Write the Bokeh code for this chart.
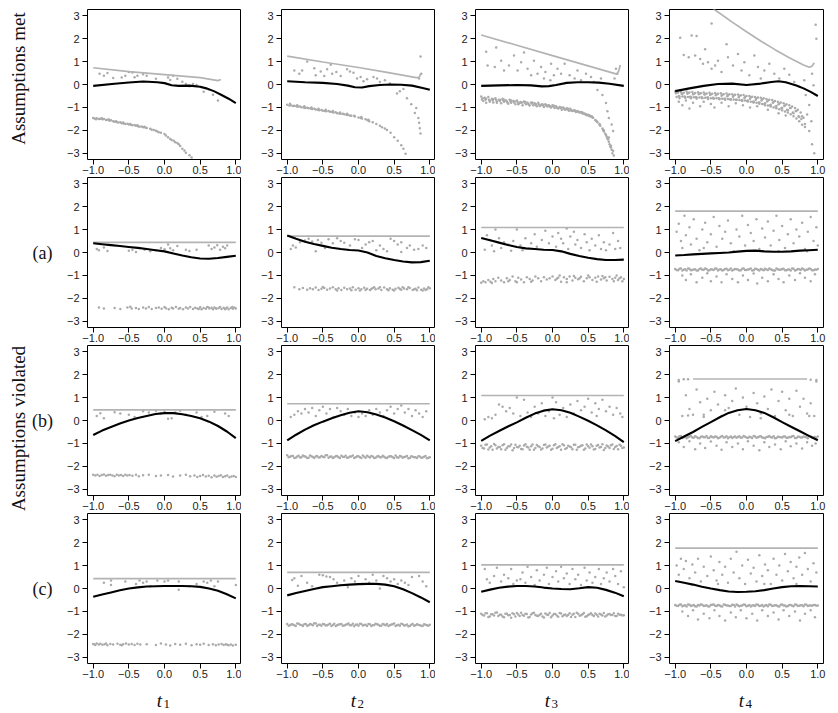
import math
from bokeh.plotting import figure
from bokeh.layouts import column, row
from bokeh.models import Range1d, FixedTicker
from bokeh.core.properties import value
from bokeh.embed import file_html
from bokeh.resources import INLINE

# ---------------- axes / labels ----------------
x_ticks = [-1.0, -0.5, 0.0, 0.5, 1.0]
x_tick_labels = ["\u22121.0", "\u22120.5", "0.0", "0.5", "1.0"]
y_ticks = [-3, -2, -1, 0, 1, 2, 3]
y_tick_labels = ["\u22123", "\u22122", "\u22121", "0", "1", "2", "3"]
x_limits = [-1.08, 1.08]
y_limits = [-3.27, 3.27]
row_tags = ["", "(a)", "(b)", "(c)"]
group_titles = ["Assumptions met", "Assumptions violated"]
col_var = "t"
col_subscripts = ["1", "2", "3", "4"]

fit_x = [-1.0, -0.875, -0.75, -0.625, -0.5, -0.375, -0.25, -0.125, 0.0, 0.125, 0.25, 0.375, 0.5, 0.625, 0.75, 0.875, 1.0]
band_x = [-1.0, -0.96, -0.92, -0.88, -0.84, -0.8, -0.76, -0.72, -0.68, -0.64, -0.6, -0.56, -0.52, -0.48, -0.44, -0.4,
          -0.36, -0.32, -0.28, -0.24, -0.2, -0.16, -0.12, -0.08, -0.04, 0.0, 0.04, 0.08, 0.12, 0.16, 0.2, 0.24, 0.28,
          0.32, 0.36, 0.4, 0.44, 0.48, 0.52, 0.56, 0.6, 0.64, 0.68, 0.72, 0.76, 0.8, 0.84, 0.88, 0.92, 0.96, 1.0]
band_x2 = [-0.98, -0.94, -0.9, -0.86, -0.82, -0.78, -0.74, -0.7, -0.66, -0.62, -0.58, -0.54, -0.5, -0.46, -0.42, -0.38,
           -0.34, -0.3, -0.26, -0.22, -0.18, -0.14, -0.1, -0.06, -0.02, 0.02, 0.06, 0.1, 0.14, 0.18, 0.22, 0.26, 0.3,
           0.34, 0.38, 0.42, 0.46, 0.5, 0.54, 0.58, 0.62, 0.66, 0.7, 0.74, 0.78, 0.82, 0.86, 0.9, 0.94, 0.98]

# ---------------- row 1 : assumptions met ----------------
m1_bound_x = [-1.0, -0.5, 0.0, 0.5, 0.75, 0.79]
m1_bound_y = [0.73, 0.56, 0.43, 0.3, 0.17, 0.22]
m1_fit_x = [-1.0, -0.7, -0.5, -0.3, -0.1, 0.0, 0.1, 0.2, 0.35, 0.5, 0.6, 0.7, 0.8, 0.9, 1.0]
m1_fit_y = [-0.06, 0.03, 0.09, 0.13, 0.1, 0.06, -0.03, -0.06, -0.05, -0.1, -0.18, -0.3, -0.46, -0.62, -0.81]
m1_scatter = [(-0.91, 0.47), (-0.85, 0.38), (-0.8, 0.5), (-0.72, 0.28), (-0.6, 0.3), (-0.55, 0.38), (-0.5, 0.55),
              (-0.45, 0.52), (-0.42, 0.32), (-0.38, 0.38), (-0.3, 0.45), (-0.25, 0.38), (-0.12, 0.25), (0.05, 0.3),
              (0.08, 0.2), (0.12, 0.38), (0.18, 0.25), (0.25, 0.12), (0.3, 0.02), (0.35, -0.08), (0.4, 0.02),
              (0.45, -0.02), (0.52, -0.12), (0.55, -0.32), (0.62, -0.22), (0.68, -0.45), (0.75, -0.7)]
m1_band = [(-1.0, -1.46), (-0.98, -1.48), (-0.95, -1.47), (-0.92, -1.5), (-0.9, -1.49), (-0.87, -1.52), (-0.85, -1.5),
           (-0.82, -1.55), (-0.8, -1.54), (-0.77, -1.58), (-0.75, -1.56), (-0.72, -1.6), (-0.7, -1.62), (-0.67, -1.64),
           (-0.65, -1.66), (-0.62, -1.65), (-0.6, -1.69), (-0.57, -1.7), (-0.55, -1.72), (-0.52, -1.71), (-0.5, -1.74),
           (-0.47, -1.76), (-0.45, -1.78), (-0.42, -1.77), (-0.4, -1.8), (-0.37, -1.82), (-0.35, -1.84), (-0.32, -1.83),
           (-0.3, -1.86), (-0.27, -1.88), (-0.25, -1.9), (-0.2, -1.93), (-0.15, -1.98), (-0.12, -2.02), (-0.1, -2.05),
           (-0.05, -2.1), (0.0, -2.16), (0.05, -2.3), (0.08, -2.38), (0.1, -2.42), (0.13, -2.45), (0.15, -2.52),
           (0.2, -2.6), (0.22, -2.68), (0.25, -2.8), (0.28, -2.88), (0.3, -2.98), (0.35, -3.08), (0.38, -3.18),
           (-0.96, -1.52), (-0.88, -1.47), (-0.78, -1.53), (-0.68, -1.6), (-0.58, -1.66), (-0.48, -1.72),
           (-0.38, -1.78), (-0.28, -1.84), (-0.18, -1.97), (-0.08, -2.08), (0.02, -2.22), (0.18, -2.55)]

m2_bound_x = [-1.0, -0.5, 0.0, 0.4, 0.81, 0.84, 0.86, 0.87]
m2_bound_y = [1.24, 0.98, 0.74, 0.53, 0.3, 0.3, 0.36, 0.47]
m2_fit_x = [-1.0, -0.75, -0.5, -0.3, -0.15, -0.05, 0.05, 0.15, 0.3, 0.45, 0.6, 0.75, 0.9, 1.0]
m2_fit_y = [0.14, 0.1, 0.07, 0.02, -0.05, -0.12, -0.13, -0.07, -0.02, 0.0, -0.01, -0.05, -0.15, -0.23]
m2_scatter = [(-0.9, 0.61), (-0.83, 0.47), (-0.79, 0.61), (-0.72, 1.0), (-0.62, 0.71), (-0.6, 0.4), (-0.53, 0.57),
              (-0.48, 0.37), (-0.44, 0.66), (-0.39, 0.86), (-0.37, 0.47), (-0.31, 0.54), (-0.25, 0.37), (-0.16, 0.66),
              (-0.12, 0.57), (-0.07, 0.51), (-0.02, 0.26), (0.03, 0.33), (0.07, 0.14), (0.12, 0.23), (0.21, 0.33),
              (0.26, 0.26), (0.3, 0.11), (0.37, 0.19), (0.44, 0.04), (0.54, -0.39), (0.58, -0.29), (0.63, -0.2),
              (0.68, -0.6), (0.74, -0.86), (0.79, -1.24), (0.81, -1.03), (0.84, -1.46), (0.85, -1.67), (0.86, -1.91),
              (0.87, -2.14), (0.85, 0.26), (0.88, 0.47), (0.87, 1.22)]
m2_band = [(-1.0, -0.88), (-0.97, -0.92), (-0.95, -0.9), (-0.92, -0.94), (-0.9, -0.93), (-0.87, -0.95), (-0.85, -0.97),
           (-0.82, -0.96), (-0.8, -0.99), (-0.77, -1.0), (-0.75, -1.02), (-0.72, -1.01), (-0.7, -1.04), (-0.67, -1.05),
           (-0.65, -1.07), (-0.62, -1.06), (-0.6, -1.09), (-0.57, -1.1), (-0.55, -1.12), (-0.52, -1.11), (-0.5, -1.14),
           (-0.47, -1.15), (-0.45, -1.17), (-0.42, -1.16), (-0.4, -1.19), (-0.37, -1.2), (-0.35, -1.22), (-0.32, -1.21),
           (-0.3, -1.25), (-0.27, -1.26), (-0.25, -1.28), (-0.22, -1.27), (-0.2, -1.3), (-0.17, -1.32), (-0.15, -1.33),
           (-0.12, -1.35), (-0.1, -1.36), (-0.05, -1.4), (0.0, -1.44), (0.03, -1.46), (0.05, -1.48), (0.1, -1.52),
           (0.13, -1.56), (0.15, -1.6), (0.2, -1.65), (0.25, -1.72), (0.3, -1.8), (0.33, -1.86), (0.37, -1.92),
           (0.4, -1.98), (0.45, -2.1), (0.5, -2.3), (0.55, -2.45), (0.6, -2.65), (0.63, -2.8), (0.66, -3.02),
           (-0.96, -0.84), (-0.86, -0.9), (-0.76, -0.95), (-0.66, -1.0), (-0.56, -1.06), (-0.46, -1.1),
           (-0.36, -1.16), (-0.26, -1.22), (-0.16, -1.28), (-0.06, -1.36), (0.04, -1.42), (0.14, -1.54)]

m3_bound_x = [-1.0, -0.5, 0.0, 0.5, 0.9, 0.93, 0.95]
m3_bound_y = [2.16, 1.71, 1.26, 0.81, 0.45, 0.6, 0.85]
m3_fit_x = [-1.0, -0.75, -0.5, -0.3, -0.15, -0.05, 0.05, 0.2, 0.35, 0.5, 0.65, 0.8, 1.0]
m3_fit_y = [-0.06, -0.04, -0.02, -0.04, -0.08, -0.07, -0.02, 0.07, 0.1, 0.1, 0.08, 0.03, -0.06]
m3_scatter = [(-0.93, 1.43), (-0.91, 0.83), (-0.81, 0.76), (-0.79, 1.61), (-0.72, 1.04), (-0.68, 0.61), (-0.61, 0.83),
              (-0.54, 1.26), (-0.49, 0.61), (-0.44, 0.97), (-0.4, 1.4), (-0.35, 0.69), (-0.3, 0.4), (-0.26, 1.04),
              (-0.21, 0.47), (-0.16, 0.76), (-0.12, 0.26), (-0.1, 0.54), (-0.03, 0.19), (0.02, 0.4), (-0.02, 0.9),
              (0.07, 0.69), (0.12, 0.47), (0.17, 0.9), (0.24, 0.4), (0.31, 0.26), (0.35, 0.61), (0.4, 0.19),
              (0.47, 0.47), (0.54, 0.33), (0.58, 0.11), (0.63, -0.24), (0.68, 0.26), (0.7, -0.46), (0.75, -0.81),
              (0.77, -1.17), (0.79, -1.46), (0.83, -1.74), (0.85, -2.03), (0.79, -2.31), (0.82, -2.67), (0.85, -2.89),
              (0.89, 0.69), (0.87, 0.26), (0.91, 0.47)]
m3_band = [(-1.0, -0.52), (-0.97, -0.72), (-0.95, -0.58), (-0.93, -0.8), (-0.9, -0.55), (-0.88, -0.7), (-0.85, -0.62),
           (-0.83, -0.78), (-0.8, -0.6), (-0.78, -0.74), (-0.75, -0.66), (-0.72, -0.82), (-0.7, -0.62), (-0.68, -0.75),
           (-0.65, -0.7), (-0.62, -0.84), (-0.6, -0.66), (-0.58, -0.8), (-0.55, -0.72), (-0.52, -0.86), (-0.5, -0.7),
           (-0.47, -0.82), (-0.45, -0.76), (-0.42, -0.9), (-0.4, -0.74), (-0.37, -0.86), (-0.35, -0.8), (-0.32, -0.92),
           (-0.3, -0.78), (-0.27, -0.9), (-0.25, -0.82), (-0.22, -0.95), (-0.2, -0.8), (-0.17, -0.92), (-0.15, -0.86),
           (-0.12, -0.98), (-0.1, -0.86), (-0.07, -0.96), (-0.05, -0.9), (-0.02, -1.0), (0.0, -0.9), (0.03, -1.02),
           (0.05, -0.95), (0.08, -1.05), (0.1, -0.98), (0.13, -1.1), (0.15, -1.0), (0.18, -1.1), (0.2, -1.04),
           (0.23, -1.14), (0.25, -1.06), (0.28, -1.16), (0.3, -1.12), (0.33, -1.2), (0.35, -1.15), (0.38, -1.22),
           (0.4, -1.2), (0.43, -1.28), (0.45, -1.26), (0.48, -1.34), (0.5, -1.32), (0.53, -1.4), (0.55, -1.38),
           (0.6, -1.55), (0.63, -1.65), (0.66, -1.75), (0.7, -1.92), (0.72, -2.05), (0.75, -2.2), (0.78, -2.4),
           (0.8, -2.6), (0.83, -2.85)]
m3_band_mid = [(-0.99, -0.65), (-0.94, -0.67), (-0.89, -0.66), (-0.84, -0.7), (-0.79, -0.68), (-0.74, -0.72),
               (-0.69, -0.7), (-0.64, -0.75), (-0.59, -0.73), (-0.54, -0.78), (-0.49, -0.76), (-0.44, -0.8),
               (-0.39, -0.8), (-0.34, -0.84), (-0.29, -0.83), (-0.24, -0.88), (-0.19, -0.87), (-0.14, -0.9),
               (-0.09, -0.92), (-0.04, -0.94), (0.01, -0.96), (0.06, -1.0), (0.11, -1.03), (0.16, -1.05),
               (0.21, -1.09), (0.26, -1.12), (0.31, -1.16), (0.36, -1.19), (0.41, -1.24), (0.46, -1.3),
               (0.51, -1.36), (0.56, -1.44), (0.61, -1.58), (0.66, -1.72), (0.71, -1.98), (0.76, -2.28),
               (0.81, -2.7), (0.84, -3.0)]
m3_band_extra = [(-0.98, -0.6), (-0.93, -0.62), (-0.88, -0.75), (-0.83, -0.64), (-0.78, -0.8), (-0.73, -0.68),
                 (-0.68, -0.66), (-0.63, -0.8), (-0.58, -0.7), (-0.53, -0.74), (-0.48, -0.86), (-0.43, -0.78),
                 (-0.38, -0.76), (-0.33, -0.88), (-0.28, -0.8), (-0.23, -0.86), (-0.18, -0.94), (-0.13, -0.88),
                 (-0.08, -0.9), (-0.03, -0.98), (0.02, -0.93), (0.07, -1.02), (0.12, -1.0), (0.17, -1.08),
                 (0.22, -1.06), (0.27, -1.14), (0.32, -1.14), (0.37, -1.2), (0.42, -1.22), (0.47, -1.3),
                 (0.52, -1.35), (0.57, -1.45), (0.62, -1.6), (0.67, -1.8), (0.72, -2.0), (0.74, -2.15),
                 (0.77, -2.35), (0.79, -2.5), (0.82, -2.75), (0.86, -3.1)]

m4_bound_x = [-0.5, -0.45, -0.2, 0.0, 0.2, 0.4, 0.6, 0.8, 0.88, 0.92, 0.95]
m4_bound_y = [3.4, 3.27, 2.72, 2.3, 1.9, 1.52, 1.17, 0.85, 0.75, 0.8, 0.95]
m4_fit_x = [-1.0, -0.8, -0.6, -0.4, -0.2, 0.0, 0.2, 0.35, 0.45, 0.55, 0.7, 0.8, 0.9, 1.0]
m4_fit_y = [-0.29, -0.17, -0.06, 0.02, 0.04, -0.02, 0.04, 0.11, 0.14, 0.1, -0.04, -0.17, -0.32, -0.5]
m4_scatter = [(-0.93, 2.04), (-0.77, 2.14), (-0.7, 2.11), (-0.49, 2.66), (-0.28, 1.76), (-0.88, 1.29), (-0.81, 1.19),
              (-0.72, 1.26), (-0.65, 1.11), (-0.58, 1.54), (-0.61, 0.9), (-0.54, 0.97), (-0.49, 0.69), (-0.44, 0.83),
              (-0.4, 1.04), (-0.35, 0.54), (-0.26, 1.19), (-0.19, 0.83), (-0.12, 1.33), (-0.07, 0.61), (-0.03, 0.97),
              (0.04, 0.4), (0.11, 1.26), (0.16, 0.76), (0.2, 0.26), (0.25, 0.61), (0.32, 0.9), (0.39, 0.47),
              (0.46, 0.26), (0.53, 0.69), (0.6, 0.43), (0.67, 0.11), (0.74, -0.1), (0.81, 0.19), (0.83, -0.46),
              (0.88, -0.89), (0.85, -1.31), (0.91, -1.6), (0.88, -2.03), (0.92, -2.6), (0.95, -3.0), (0.97, 2.61),
              (0.98, 2.0), (0.92, 0.47), (0.94, -0.03)]
m4_band_y = [-0.3, -0.35, -0.32, -0.36, -0.31, -0.35, -0.33, -0.37, -0.34, -0.38, -0.35, -0.39, -0.36, -0.4, -0.37,
             -0.4, -0.38, -0.42, -0.39, -0.43, -0.42, -0.45, -0.44, -0.47, -0.46, -0.5, -0.5, -0.53, -0.54, -0.57,
             -0.58, -0.6, -0.63, -0.66, -0.68, -0.72, -0.75, -0.79, -0.82, -0.86, -0.9, -0.96, -1.02, -1.1, -1.22,
             -1.45]
m4_band_y2 = [-0.55, -0.6, -0.52, -0.58, -0.54, -0.6, -0.56, -0.62, -0.57, -0.6, -0.58, -0.63, -0.6, -0.62, -0.6,
              -0.64, -0.62, -0.66, -0.63, -0.67, -0.65, -0.68, -0.68, -0.72, -0.7, -0.74, -0.75, -0.78, -0.8, -0.84,
              -0.85, -0.9, -0.92, -0.96, -1.0, -1.04, -1.08, -1.12, -1.18, -1.22, -1.3, -1.38, -1.48, -1.6, -1.75,
              -1.85]
m4_band_mid = [-0.35, -0.52, -0.4, -0.55, -0.37, -0.54, -0.41, -0.57, -0.39, -0.58, -0.42, -0.57, -0.43, -0.6, -0.44,
               -0.61, -0.45, -0.62, -0.47, -0.64, -0.49, -0.66, -0.5, -0.68, -0.54, -0.7, -0.56, -0.74, -0.6, -0.78,
               -0.64, -0.82, -0.7, -0.88, -0.76, -0.94, -0.83, -1.02, -0.92, -1.12, -1.02, -1.25, -1.16, -1.42, -1.38,
               -1.72]
m4_band_extra = [(-0.99, -0.38), (-0.95, -0.5), (-0.91, -0.4), (-0.87, -0.52), (-0.83, -0.4), (-0.79, -0.53),
                 (-0.75, -0.42), (-0.71, -0.55), (-0.67, -0.43), (-0.63, -0.56), (-0.59, -0.44), (-0.55, -0.57),
                 (-0.51, -0.46), (-0.47, -0.58), (-0.43, -0.47), (-0.39, -0.6), (-0.35, -0.49), (-0.31, -0.62),
                 (-0.27, -0.51), (-0.23, -0.64), (-0.19, -0.53), (-0.15, -0.66), (-0.11, -0.56), (-0.07, -0.69),
                 (-0.03, -0.59), (0.01, -0.72), (0.05, -0.62), (0.09, -0.76), (0.13, -0.66), (0.17, -0.8),
                 (0.21, -0.7), (0.25, -0.85), (0.29, -0.74), (0.33, -0.9), (0.37, -0.8), (0.41, -0.96),
                 (0.45, -0.86), (0.49, -1.02), (0.53, -0.94), (0.57, -1.1), (0.61, -1.03), (0.65, -1.22),
                 (0.69, -1.16), (0.73, -1.38), (0.77, -1.5)]
m4_below = [(-0.95, -0.75), (-0.9, -0.9), (-0.85, -0.7), (-0.8, -1.05), (-0.75, -0.8), (-0.65, -0.95), (-0.6, -0.75),
            (-0.5, -0.85), (-0.45, -1.0), (-0.35, -0.8), (-0.25, -0.95), (-0.15, -0.82), (-0.05, -0.9), (0.05, -1.0),
            (0.15, -0.95), (0.3, -1.1), (0.45, -1.25), (0.55, -1.35)]

# ---------------- row 2 : (a) ----------------
a1_level = 0.44
a2_level = 0.71
a3_level = 1.09
a4_level = 1.8
a1_fit_y = [0.4, 0.36, 0.32, 0.28, 0.24, 0.2, 0.15, 0.1, 0.05, -0.04, -0.13, -0.21, -0.26, -0.27, -0.24, -0.19, -0.14]
a2_fit_y = [0.74, 0.6, 0.47, 0.37, 0.29, 0.21, 0.15, 0.11, 0.09, 0.0, -0.15, -0.25, -0.33, -0.39, -0.43, -0.42, -0.36]
a3_fit_y = [0.63, 0.53, 0.43, 0.33, 0.24, 0.18, 0.15, 0.12, 0.11, 0.05, -0.06, -0.15, -0.23, -0.29, -0.33, -0.33, -0.31]
a4_fit_y = [-0.13, -0.11, -0.08, -0.06, -0.04, -0.02, 0.0, 0.04, 0.07, 0.08, 0.05, 0.03, 0.03, 0.05, 0.08, 0.1, 0.12]

a1_scatter = [(-0.95, 0.15), (-0.92, 0.1), (-0.85, 0.22), (-0.8, 0.06), (-0.5, 0.08), (-0.45, 0.12), (-0.4, 0.02),
              (-0.35, 0.2), (-0.28, 0.12), (-0.2, 0.05), (-0.12, 0.1), (-0.05, 0.2), (0.0, 0.14), (0.05, 0.35),
              (0.08, 0.18), (0.12, 0.1), (0.18, 0.28), (0.3, 0.12), (0.35, 0.06), (0.45, 0.12), (0.62, 0.3),
              (0.66, 0.15), (0.7, 0.22), (0.74, 0.32), (0.78, 0.12), (0.82, 0.25), (0.85, 0.18), (0.88, 0.3)]
a1_band = [(-0.92, -2.4), (-0.85, -2.44), (-0.7, -2.42), (-0.62, -2.46), (-0.52, -2.4), (-0.48, -2.36), (-0.46, -2.44),
           (-0.4, -2.42), (-0.36, -2.46), (-0.3, -2.4), (-0.26, -2.44), (-0.22, -2.38), (-0.18, -2.46), (-0.12, -2.42),
           (-0.08, -2.4), (-0.04, -2.45), (0.0, -2.38), (0.02, -2.43), (0.06, -2.47), (0.1, -2.41), (0.12, -2.44),
           (0.16, -2.38), (0.2, -2.45), (0.22, -2.42), (0.26, -2.47), (0.3, -2.4), (0.33, -2.44), (0.36, -2.38),
           (0.4, -2.46), (0.43, -2.41), (0.46, -2.44), (0.5, -2.39), (0.52, -2.47), (0.55, -2.42), (0.58, -2.45),
           (0.6, -2.38), (0.63, -2.44), (0.66, -2.41), (0.68, -2.47), (0.7, -2.4), (0.73, -2.45), (0.76, -2.42),
           (0.78, -2.38), (0.8, -2.46), (0.83, -2.41), (0.86, -2.44), (0.88, -2.4), (0.9, -2.47), (0.93, -2.42),
           (0.96, -2.45), (0.98, -2.4), (1.0, -2.44), (0.48, -2.46), (0.62, -2.4), (0.72, -2.43), (0.85, -2.47),
           (0.95, -2.38)]

a2_scatter = [(-0.95, 0.15), (-0.92, 0.3), (-0.88, 0.22), (-0.82, 0.45), (-0.75, 0.52), (-0.7, 0.6), (-0.65, 0.48),
              (-0.6, 0.05), (-0.57, 0.55), (-0.52, 0.42), (-0.47, 0.2), (-0.42, 0.58), (-0.36, 0.4), (-0.3, 0.62),
              (-0.25, 0.5), (-0.2, 0.42), (-0.12, 0.3), (-0.05, 0.58), (0.0, 0.55), (0.05, 0.2), (0.1, 0.35),
              (0.15, 0.45), (0.2, 0.5), (0.25, 0.1), (0.3, 0.3), (0.35, 0.15), (0.4, 0.05), (0.45, 0.6), (0.5, 0.5),
              (0.55, 0.35), (0.6, 0.45), (0.6, 0.02), (0.68, 0.2), (0.72, 0.3), (0.78, 0.12), (0.84, 0.15),
              (0.9, 0.3), (0.95, 0.2)]
a2_band = [(-0.9, -1.52), (-0.83, -1.6), (-0.78, -1.55), (-0.72, -1.62), (-0.68, -1.56), (-0.64, -1.6), (-0.6, -1.53),
           (-0.56, -1.64), (-0.52, -1.58), (-0.48, -1.55), (-0.44, -1.62), (-0.4, -1.57), (-0.36, -1.52),
           (-0.32, -1.6), (-0.28, -1.56), (-0.24, -1.63), (-0.2, -1.54), (-0.16, -1.6), (-0.12, -1.57), (-0.08, -1.52),
           (-0.04, -1.62), (0.0, -1.56), (0.04, -1.6), (0.08, -1.54), (0.12, -1.58), (0.16, -1.63), (0.2, -1.55),
           (0.24, -1.6), (0.28, -1.57), (0.32, -1.64), (0.36, -1.53), (0.4, -1.6), (0.44, -1.56), (0.48, -1.62),
           (0.52, -1.58), (0.56, -1.54), (0.6, -1.62), (0.64, -1.57), (0.68, -1.6), (0.72, -1.55), (0.76, -1.64),
           (0.8, -1.58), (0.84, -1.53), (0.88, -1.62), (0.92, -1.57), (0.96, -1.6), (1.0, -1.56), (0.1, -1.64),
           (0.3, -1.52), (0.5, -1.66), (0.7, -1.51), (0.9, -1.66), (-0.3, -1.66), (-0.5, -1.5), (0.02, -1.66),
           (0.22, -1.51), (0.42, -1.65), (0.62, -1.52), (0.82, -1.65), (0.98, -1.52), (-0.1, -1.65), (0.18, -1.59),
           (0.58, -1.59), (0.78, -1.6), (0.94, -1.64)]

a3_scatter = [(-0.95, 0.12), (-0.92, 0.75), (-0.88, 0.55), (-0.85, 0.3), (-0.82, 0.05), (-0.8, 1.0), (-0.75, 0.62),
              (-0.72, 0.2), (-0.68, 0.45), (-0.62, 0.35), (-0.58, 0.08), (-0.55, 0.5), (-0.5, 1.0), (-0.45, 0.3),
              (-0.42, 0.1), (-0.38, 0.62), (-0.3, 0.4), (-0.25, 0.8), (-0.22, 0.25), (-0.15, 0.55), (-0.1, 0.95),
              (-0.05, 0.4), (0.0, 0.7), (0.05, 0.25), (0.08, 0.85), (0.12, 0.6), (0.15, 0.4), (0.2, 1.05),
              (0.22, 0.15), (0.25, 0.7), (0.3, 0.9), (0.32, 0.35), (0.35, 0.55), (0.4, 0.2), (0.45, 0.8),
              (0.48, 0.45), (0.52, 0.1), (0.55, 0.6), (0.6, 0.3), (0.65, 0.75), (0.68, 0.15), (0.72, 0.45),
              (0.75, 0.1), (0.8, 0.35), (0.85, 0.85), (0.88, 0.15), (0.92, 0.5), (0.95, 0.2)]
a3_band = [(-1.0, -1.32), (-0.97, -1.25), (-0.94, -1.3), (-0.9, -1.2), (-0.87, -1.28), (-0.83, -1.15), (-0.8, -1.25),
           (-0.76, -1.1), (-0.72, -1.22), (-0.68, -1.3), (-0.64, -1.12), (-0.6, -1.2), (-0.56, -1.05), (-0.52, -1.25),
           (-0.48, -1.1), (-0.44, -1.18), (-0.4, -1.3), (-0.36, -1.08), (-0.32, -1.15), (-0.28, -1.22),
           (-0.24, -1.05), (-0.2, -1.12), (-0.16, -1.25), (-0.12, -1.08), (-0.08, -1.18), (-0.04, -1.12),
           (0.0, -1.05), (0.04, -1.2), (0.08, -1.1), (0.12, -1.28), (0.16, -1.08), (0.2, -1.15), (0.24, -1.05),
           (0.28, -1.22), (0.32, -1.1), (0.36, -1.17), (0.4, -1.06), (0.44, -1.25), (0.48, -1.12), (0.52, -1.08),
           (0.56, -1.2), (0.6, -1.1), (0.64, -1.05), (0.68, -1.18), (0.72, -1.12), (0.76, -1.22), (0.8, -1.06),
           (0.84, -1.15), (0.88, -1.1), (0.92, -1.2), (0.96, -1.08), (1.0, -1.15), (0.1, -1.0), (0.3, -1.02),
           (0.5, -1.0), (0.7, -1.02), (0.9, -1.0), (-0.5, -1.3), (0.2, -1.3), (0.62, -1.28), (0.86, -1.25),
           (0.98, -1.25), (-0.85, -1.33), (-0.62, -1.25), (-0.3, -1.28), (0.06, -1.14), (0.38, -1.12),
           (0.74, -1.08), (0.94, -1.12)]

a4_scatter = [(-0.98, 0.9), (-0.95, 1.25), (-0.92, 0.5), (-0.9, 0.2), (-0.87, 1.6), (-0.85, 0.75), (-0.8, 1.1),
              (-0.78, 0.35), (-0.74, 1.45), (-0.7, 0.6), (-0.66, 0.1), (-0.62, 1.0), (-0.58, 1.3), (-0.55, 0.45),
              (-0.5, 0.8), (-0.46, 1.55), (-0.42, 0.25), (-0.38, 1.15), (-0.34, 0.6), (-0.3, 0.9), (-0.26, 1.4),
              (-0.22, 0.4), (-0.18, 0.05), (-0.14, 1.0), (-0.1, 0.7), (-0.06, 1.6), (-0.02, 0.3), (0.02, 1.2),
              (0.06, 0.85), (0.1, 0.5), (0.14, 1.45), (0.18, 0.15), (0.22, 1.05), (0.26, 0.65), (0.3, 1.35),
              (0.34, 0.3), (0.38, 0.95), (0.42, 1.6), (0.46, 0.55), (0.5, 1.15), (0.54, 0.2), (0.58, 0.8),
              (0.62, 1.45), (0.66, 0.4), (0.7, 1.0), (0.74, 0.7), (0.78, 1.3), (0.82, 0.15), (0.86, 0.9),
              (0.9, 1.55), (0.94, 0.5), (0.98, 1.1), (1.0, 0.3), (-0.6, 0.2), (0.45, 0.05), (0.85, 0.05)]
a4_band_y = [-0.72, -0.77, -0.7, -0.75, -0.79, -0.71, -0.76, -0.73, -0.78, -0.7, -0.75, -0.72, -0.77, -0.74, -0.7,
             -0.78, -0.73, -0.76, -0.71, -0.75, -0.79, -0.72, -0.74, -0.77, -0.7, -0.76, -0.73, -0.78, -0.71, -0.75,
             -0.72, -0.77, -0.74, -0.7, -0.76, -0.79, -0.73, -0.75, -0.71, -0.77, -0.74, -0.7, -0.78, -0.72, -0.76,
             -0.73, -0.75, -0.7, -0.77, -0.74, -0.72]
a4_band_y2 = [-0.76, -0.71, -0.78, -0.73, -0.7, -0.77, -0.74, -0.79, -0.72, -0.75, -0.7, -0.78, -0.73, -0.76, -0.71,
              -0.74, -0.79, -0.72, -0.77, -0.7, -0.75, -0.73, -0.78, -0.71, -0.76, -0.74, -0.7, -0.77, -0.72, -0.79,
              -0.74, -0.71, -0.76, -0.73, -0.78, -0.7, -0.75, -0.72, -0.77, -0.74, -0.79, -0.71, -0.76, -0.73, -0.7,
              -0.78, -0.74, -0.72, -0.77, -0.75]
a4_below = [(-0.9, -1.0), (-0.85, -1.2), (-0.78, -0.95), (-0.7, -1.3), (-0.62, -1.1), (-0.55, -0.9), (-0.5, -1.25),
            (-0.42, -1.05), (-0.35, -1.3), (-0.28, -0.95), (-0.2, -1.15), (-0.12, -1.3), (-0.05, -1.0), (0.02, -1.2),
            (0.1, -0.92), (0.15, -1.35), (0.22, -1.1), (0.3, -1.25), (0.38, -0.95), (0.45, -1.15), (0.52, -1.3),
            (0.6, -1.0), (0.68, -1.2), (0.75, -0.9), (0.82, -1.1), (0.9, -1.25), (0.96, -0.95)]

# ---------------- row 3 : (b) ----------------
b1_level = 0.46
b2_level = 0.73
b3_level = 1.09
b4_bound_x = [-0.75, 0.85]
b4_bound_y = [1.81, 1.81]
b1_fit_y = [-0.63, -0.44, -0.28, -0.13, 0.0, 0.11, 0.2, 0.28, 0.32, 0.32, 0.27, 0.2, 0.1, -0.05, -0.24, -0.48, -0.77]
b2_fit_y = [-0.87, -0.62, -0.4, -0.21, -0.05, 0.1, 0.23, 0.34, 0.4, 0.36, 0.26, 0.13, -0.03, -0.22, -0.42, -0.63, -0.87]
b3_fit_y = [-0.89, -0.66, -0.46, -0.26, -0.08, 0.12, 0.3, 0.43, 0.49, 0.45, 0.34, 0.17, -0.01, -0.21, -0.43, -0.67, -0.94]
b4_fit_y = [-0.9, -0.7, -0.5, -0.28, -0.07, 0.14, 0.33, 0.45, 0.5, 0.45, 0.33, 0.14, -0.07, -0.27, -0.47, -0.67, -0.86]

b1_scatter = [(-0.95, 0.2), (-0.9, 0.32), (-0.85, 0.1), (-0.7, 0.36), (-0.62, 0.3), (-0.5, 0.25), (-0.42, 0.15),
              (-0.3, 0.4), (-0.22, 0.35), (-0.12, 0.42), (-0.05, 0.3), (0.0, 0.38), (0.05, 0.08), (0.1, 0.1),
              (0.15, 0.35), (0.22, 0.42), (0.3, 0.25), (0.45, 0.35), (0.52, 0.15), (0.6, 0.2), (0.7, 0.38),
              (0.85, 0.3), (0.9, 0.2)]
b1_band_x = [-1.0, -0.97, -0.94, -0.91, -0.88, -0.85, -0.82, -0.79, -0.76, -0.73, -0.7, -0.67, -0.64, -0.61, -0.58,
             -0.55, -0.52, -0.49, -0.45, -0.4, -0.36, -0.3, -0.22, -0.12, -0.05, 0.05, 0.12, 0.22, 0.3, 0.36, 0.42,
             0.46, 0.5, 0.54, 0.58, 0.62, 0.66, 0.7, 0.73, 0.76, 0.79, 0.82, 0.85, 0.88, 0.91, 0.94, 0.97, 1.0]
b1_band_y = [-2.36, -2.4, -2.37, -2.42, -2.38, -2.35, -2.41, -2.38, -2.36, -2.4, -2.43, -2.37, -2.4, -2.38, -2.42,
             -2.36, -2.4, -2.38, -2.41, -2.37, -2.43, -2.39, -2.36, -2.42, -2.4, -2.38, -2.44, -2.4, -2.37, -2.43,
             -2.4, -2.46, -2.42, -2.38, -2.44, -2.41, -2.47, -2.4, -2.45, -2.42, -2.39, -2.46, -2.43, -2.4, -2.47,
             -2.44, -2.42, -2.46]

b2_scatter = [(-0.95, 0.15), (-0.9, 0.25), (-0.85, 0.4), (-0.8, 0.3), (-0.75, 0.5), (-0.7, 0.35), (-0.65, 0.55),
              (-0.6, 0.2), (-0.55, 0.45), (-0.5, 0.6), (-0.45, 0.3), (-0.4, 0.5), (-0.35, 0.15), (-0.3, 0.55),
              (-0.25, 0.4), (-0.2, 0.25), (-0.15, 0.5), (-0.1, 0.2), (-0.05, 0.35), (0.0, 0.15), (0.05, 0.3),
              (0.1, 0.2), (0.15, 0.45), (0.2, 0.25), (0.25, 0.5), (0.3, 0.35), (0.35, 0.2), (0.4, 0.45), (0.45, 0.6),
              (0.5, 0.3), (0.55, 0.5), (0.6, 0.65), (0.65, 0.35), (0.7, 0.5), (0.75, 0.2), (0.8, 0.45), (0.85, 0.3),
              (0.9, 0.15), (0.95, 0.4)]
b2_band_y = [-1.52, -1.58, -1.55, -1.62, -1.54, -1.6, -1.56, -1.63, -1.53, -1.59, -1.57, -1.61, -1.55, -1.6, -1.52,
             -1.58, -1.63, -1.56, -1.6, -1.54, -1.59, -1.62, -1.57, -1.53, -1.6, -1.56, -1.64, -1.58, -1.54, -1.61,
             -1.57, -1.62, -1.55, -1.6, -1.58, -1.64, -1.56, -1.6, -1.53, -1.62, -1.57, -1.59, -1.55, -1.63, -1.58,
             -1.6, -1.56, -1.62, -1.58, -1.65, -1.6]
b2_band_y2 = [-1.6, -1.55, -1.63, -1.57, -1.61, -1.53, -1.58, -1.62, -1.56, -1.64, -1.55, -1.6, -1.58, -1.52, -1.62,
              -1.57, -1.6, -1.55, -1.63, -1.58, -1.54, -1.61, -1.57, -1.64, -1.56, -1.6, -1.53, -1.62, -1.58, -1.55,
              -1.63, -1.57, -1.6, -1.54, -1.62, -1.58, -1.56, -1.64, -1.6, -1.55, -1.62, -1.58, -1.65, -1.56, -1.6,
              -1.63, -1.57, -1.61, -1.55, -1.62]

b3_scatter = [(-0.95, 0.05), (-0.9, 0.15), (-0.85, 0.1), (-0.8, 0.25), (-0.75, 0.7), (-0.7, 0.6), (-0.65, 0.4),
              (-0.6, 0.55), (-0.55, 0.3), (-0.5, 1.0), (-0.45, 0.2), (-0.4, 0.9), (-0.35, 0.35), (-0.3, 0.15),
              (-0.25, 0.6), (-0.2, 0.3), (-0.15, 0.75), (-0.1, 0.2), (-0.05, 0.4), (0.0, 1.0), (0.02, 0.1),
              (0.05, 0.8), (0.1, 0.25), (0.15, 0.55), (0.2, 0.15), (0.25, 0.7), (0.3, 0.3), (0.35, 0.85), (0.4, 0.45),
              (0.45, 0.6), (0.5, 0.95), (0.55, 0.35), (0.6, 0.75), (0.62, 0.2), (0.65, 0.5), (0.7, 0.9), (0.75, 0.4),
              (0.8, 0.6), (0.85, 0.25), (0.9, 0.55), (0.95, 0.3), (0.98, 0.15)]
b3_band_y = [-1.1, -1.22, -1.05, -1.18, -1.28, -1.08, -1.15, -1.25, -1.04, -1.2, -1.12, -1.3, -1.06, -1.17, -1.24,
             -1.09, -1.14, -1.27, -1.05, -1.2, -1.12, -1.26, -1.07, -1.18, -1.1, -1.23, -1.04, -1.16, -1.28, -1.08,
             -1.2, -1.13, -1.25, -1.06, -1.17, -1.1, -1.27, -1.05, -1.19, -1.12, -1.24, -1.07, -1.15, -1.29, -1.09,
             -1.2, -1.05, -1.16, -1.25, -1.1, -1.18]
b3_band_y2 = [-1.2, -1.06, -1.26, -1.12, -1.03, -1.22, -1.15, -1.08, -1.28, -1.12, -1.05, -1.2, -1.16, -1.1, -1.25,
              -1.04, -1.18, -1.12, -1.28, -1.07, -1.15, -1.22, -1.05, -1.13, -1.27, -1.08, -1.2, -1.12, -1.04,
              -1.24, -1.1, -1.17, -1.06, -1.28, -1.14, -1.08, -1.22, -1.12, -1.05, -1.26, -1.1, -1.18, -1.04, -1.2,
              -1.13, -1.08, -1.24, -1.11, -1.06, -1.2]

b4_scatter = [(-0.95, 1.7), (-0.9, 0.2), (-0.85, 1.1), (-0.8, 0.5), (-0.75, 0.25), (-0.7, 1.35), (-0.65, 0.8),
              (-0.6, 0.15), (-0.55, 0.95), (-0.5, 0.45), (-0.45, 1.25), (-0.4, 0.7), (-0.35, 0.2), (-0.3, 1.1),
              (-0.25, 0.55), (-0.2, 0.85), (-0.15, 1.4), (-0.1, 0.25), (-0.05, 1.0), (0.0, 0.6), (0.05, 0.15),
              (0.1, 1.2), (0.15, 0.75), (0.2, 0.3), (0.25, 1.05), (0.3, 0.5), (0.35, 1.35), (0.4, 0.2), (0.45, 0.85),
              (0.5, 1.25), (0.55, 0.45), (0.6, 0.95), (0.65, 0.2), (0.7, 1.3), (0.75, 0.6), (0.8, 0.95), (0.85, 0.3),
              (0.9, 0.75), (0.95, 0.2), (0.98, 1.7), (-0.82, 0.22), (-0.6, 0.25), (0.6, 0.25), (0.88, 0.2),
              (-0.3, 0.45), (0.2, 0.1), (-0.95, 1.77), (-0.88, 1.8), (-0.82, 1.8), (0.9, 1.78), (0.98, 1.77)]
b4_band_y = [-0.7, -0.75, -0.68, -0.73, -0.77, -0.7, -0.74, -0.69, -0.76, -0.71, -0.73, -0.68, -0.75, -0.72, -0.7,
             -0.77, -0.71, -0.74, -0.69, -0.73, -0.76, -0.7, -0.72, -0.75, -0.68, -0.74, -0.71, -0.76, -0.7, -0.73,
             -0.69, -0.75, -0.72, -0.68, -0.74, -0.77, -0.71, -0.73, -0.7, -0.75, -0.72, -0.69, -0.76, -0.71, -0.74,
             -0.7, -0.73, -0.68, -0.75, -0.72, -0.7]
b4_band_y2 = [-0.74, -0.69, -0.76, -0.71, -0.73, -0.68, -0.75, -0.72, -0.77, -0.7, -0.73, -0.76, -0.69, -0.74, -0.71,
              -0.75, -0.68, -0.73, -0.77, -0.7, -0.72, -0.75, -0.69, -0.74, -0.71, -0.76, -0.73, -0.68, -0.75, -0.7,
              -0.74, -0.77, -0.71, -0.73, -0.69, -0.76, -0.72, -0.74, -0.7, -0.75, -0.73, -0.68, -0.76, -0.71,
              -0.74, -0.72, -0.77, -0.7, -0.73, -0.75]
b4_below = [(-0.95, -0.95), (-0.88, -1.15), (-0.8, -0.9), (-0.72, -1.25), (-0.65, -1.0), (-0.58, -1.2), (-0.5, -0.92),
            (-0.42, -1.1), (-0.35, -1.28), (-0.28, -0.95), (-0.2, -1.15), (-0.12, -1.0), (-0.05, -1.25), (0.02, -0.9),
            (0.1, -1.1), (0.18, -1.3), (0.25, -0.95), (0.32, -1.15), (0.4, -1.05), (0.48, -1.25), (0.55, -0.9),
            (0.62, -1.12), (0.7, -1.0), (0.78, -1.22), (0.85, -0.95), (0.92, -1.1), (0.97, -1.0)]

# ---------------- row 4 : (c) ----------------
c1_level = 0.43
c2_level = 0.7
c3_level = 1.03
c4_level = 1.76
c1_fit_y = [-0.36, -0.26, -0.17, -0.08, 0.0, 0.05, 0.09, 0.1, 0.11, 0.11, 0.11, 0.1, 0.07, 0.0, -0.1, -0.25, -0.43]
c2_fit_y = [-0.3, -0.2, -0.11, -0.02, 0.06, 0.1, 0.14, 0.17, 0.19, 0.2, 0.2, 0.17, 0.1, -0.03, -0.2, -0.39, -0.6]
c3_fit_y = [-0.14, -0.05, 0.03, 0.08, 0.11, 0.11, 0.09, 0.04, 0.0, -0.02, -0.03, 0.01, 0.06, 0.03, -0.06, -0.18, -0.34]
c4_fit_y = [0.33, 0.25, 0.17, 0.08, 0.0, -0.07, -0.13, -0.15, -0.14, -0.12, -0.07, 0.0, 0.06, 0.1, 0.11, 0.1, 0.09]

c1_scatter = [(-0.85, 0.25), (-0.75, 0.35), (-0.75, 0.15), (-0.55, 0.3), (-0.4, 0.2), (-0.35, 0.35), (-0.3, 0.25),
              (-0.25, 0.3), (-0.2, 0.1), (-0.1, 0.35), (0.0, 0.3), (0.05, 0.35), (0.2, 0.3), (0.2, -0.05),
              (0.35, 0.1), (0.45, 0.2), (0.55, 0.3), (0.6, 0.25), (0.65, 0.35), (0.7, 0.1), (0.75, 0.3), (1.0, 0.15)]
c1_band = [(-1.0, -2.42), (-0.97, -2.46), (-0.95, -2.4), (-0.92, -2.44), (-0.9, -2.41), (-0.87, -2.45), (-0.84, -2.43),
           (-0.8, -2.47), (-0.76, -2.42), (-0.72, -2.44), (-0.66, -2.41), (-0.62, -2.45), (-0.58, -2.43),
           (-0.54, -2.4), (-0.5, -2.44), (-0.46, -2.42), (-0.42, -2.46), (-0.38, -2.41), (-0.34, -2.44),
           (-0.25, -2.43), (-0.12, -2.46), (-0.05, -2.4), (0.02, -2.44), (0.08, -2.48), (0.15, -2.42),
           (0.22, -2.45), (0.3, -2.41), (0.38, -2.47), (0.45, -2.43), (0.5, -2.45), (0.55, -2.41), (0.62, -2.46),
           (0.68, -2.43), (0.72, -2.47), (0.76, -2.44), (0.8, -2.42), (0.83, -2.46), (0.86, -2.43), (0.9, -2.47),
           (0.93, -2.44), (0.96, -2.48), (1.0, -2.45), (-0.98, -2.44), (-0.82, -2.4), (-0.6, -2.47), (0.88, -2.45)]

c2_scatter = [(-0.93, 0.37), (-0.9, 0.45), (-0.85, 0.12), (-0.8, 0.55), (-0.72, 0.25), (-0.65, 0.1), (-0.55, 0.6),
              (-0.5, 0.58), (-0.45, 0.52), (-0.4, 0.5), (-0.35, 0.4), (-0.3, 0.25), (-0.25, 0.15), (-0.2, 0.35),
              (-0.15, 0.05), (-0.1, 0.45), (-0.05, 0.3), (0.0, 0.55), (0.05, 0.2), (0.1, 0.4), (0.15, 0.25),
              (0.2, 0.6), (0.25, 0.35), (0.3, 0.0), (0.35, 0.55), (0.4, 0.45), (0.45, 0.3), (0.5, 0.4), (0.55, 0.2),
              (0.6, 0.35), (0.65, 0.25), (0.7, 0.15), (0.75, 0.5), (0.85, 0.55), (0.9, 0.3), (0.95, 0.1)]
c2_band_y = [-1.55, -1.6, -1.57, -1.63, -1.54, -1.59, -1.56, -1.62, -1.55, -1.6, -1.53, -1.58, -1.62, -1.56, -1.6,
             -1.54, -1.59, -1.63, -1.57, -1.55, -1.61, -1.56, -1.6, -1.54, -1.58, -1.62, -1.55, -1.59, -1.64, -1.56,
             -1.6, -1.54, -1.58, -1.62, -1.57, -1.55, -1.6, -1.56, -1.63, -1.58, -1.54, -1.61, -1.57, -1.64, -1.55,
             -1.6, -1.58, -1.62, -1.56, -1.6, -1.58]
c2_band_y2 = [-1.62, -1.56, -1.6, -1.53, -1.58, -1.64, -1.55, -1.6, -1.57, -1.52, -1.63, -1.58, -1.55, -1.61, -1.57,
              -1.64, -1.54, -1.6, -1.56, -1.62, -1.58, -1.53, -1.6, -1.65, -1.57, -1.54, -1.61, -1.58, -1.55,
              -1.63, -1.59, -1.56, -1.62, -1.55, -1.6, -1.64, -1.57, -1.53, -1.6, -1.62, -1.56, -1.6, -1.65,
              -1.58, -1.62, -1.56, -1.6, -1.64, -1.58, -1.62]

c3_scatter = [(-0.95, 0.85), (-0.92, 0.4), (-0.88, 0.25), (-0.82, 0.55), (-0.78, 0.9), (-0.72, 0.3), (-0.68, 0.6),
              (-0.62, 0.45), (-0.58, 0.85), (-0.55, 0.2), (-0.5, 0.35), (-0.45, 0.4), (-0.42, 0.7), (-0.38, 0.25),
              (-0.35, 0.95), (-0.3, 0.5), (-0.25, 0.15), (-0.22, 0.8), (-0.18, 0.35), (-0.12, 0.6), (-0.08, 0.9),
              (-0.05, 0.2), (0.0, 0.5), (0.05, 0.75), (0.08, 0.3), (0.12, 0.95), (0.16, 0.45), (0.2, 0.65),
              (0.24, 0.2), (0.28, 0.85), (0.32, 0.4), (0.36, 0.6), (0.4, 0.15), (0.45, 0.9), (0.48, 0.35),
              (0.52, 0.7), (0.56, 0.25), (0.6, 0.5), (0.65, 0.85), (0.68, 0.2), (0.72, 0.45), (0.76, 0.7),
              (0.8, 0.3), (0.85, 0.85), (0.88, 0.55), (0.92, 0.2), (0.96, 0.75), (1.0, 0.05)]
c3_band_y = [-1.1, -1.18, -1.08, -1.22, -1.12, -1.06, -1.2, -1.14, -1.25, -1.1, -1.16, -1.08, -1.22, -1.13, -1.06,
             -1.19, -1.11, -1.24, -1.08, -1.15, -1.2, -1.1, -1.26, -1.13, -1.07, -1.18, -1.11, -1.23, -1.09, -1.15,
             -1.2, -1.08, -1.14, -1.24, -1.1, -1.17, -1.07, -1.21, -1.12, -1.16, -1.09, -1.22, -1.13, -1.07, -1.18,
             -1.11, -1.15, -1.2, -1.1, -1.14, -1.17]
c3_band_y2 = [-1.16, -1.08, -1.24, -1.12, -1.18, -1.05, -1.14, -1.22, -1.1, -1.17, -1.28, -1.12, -1.07, -1.2,
              -1.15, -1.1, -1.26, -1.13, -1.06, -1.19, -1.14, -1.22, -1.09, -1.16, -1.25, -1.11, -1.18, -1.07,
              -1.21, -1.13, -1.16, -1.24, -1.1, -1.06, -1.19, -1.12, -1.23, -1.15, -1.08, -1.2, -1.14, -1.1, -1.18,
              -1.22, -1.12, -1.16, -1.08, -1.2, -1.14, -1.18]

c4_scatter = [(-0.98, 1.0), (-0.95, 0.6), (-0.92, 1.3), (-0.88, 0.85), (-0.85, 1.2), (-0.8, 0.45), (-0.76, 1.05),
              (-0.72, 0.7), (-0.68, 1.3), (-0.64, 0.3), (-0.6, 0.95), (-0.55, 0.55), (-0.5, 1.4), (-0.46, 0.8),
              (-0.42, 0.35), (-0.38, 1.15), (-0.34, 0.6), (-0.3, 0.95), (-0.26, 0.25), (-0.22, 1.3), (-0.18, 0.7),
              (-0.14, 1.6), (-0.1, 0.45), (-0.06, 1.0), (-0.02, 0.2), (0.02, 1.25), (0.06, 0.65), (0.1, 0.9),
              (0.14, 0.3), (0.18, 1.45), (0.22, 0.55), (0.26, 1.05), (0.3, 0.8), (0.34, 0.2), (0.38, 1.3),
              (0.42, 0.6), (0.46, 1.0), (0.5, 0.35), (0.54, 1.5), (0.58, 0.75), (0.62, 1.15), (0.66, 0.45),
              (0.7, 0.95), (0.74, 1.35), (0.78, 0.6), (0.82, 1.55), (0.86, 0.85), (0.9, 0.3), (0.94, 1.1),
              (0.98, 0.7), (-0.4, 0.2), (0.25, 0.2), (0.7, 0.2)]
c4_band_y = [-0.72, -0.76, -0.7, -0.75, -0.78, -0.71, -0.74, -0.77, -0.72, -0.7, -0.76, -0.73, -0.78, -0.71, -0.75,
             -0.72, -0.77, -0.7, -0.74, -0.76, -0.71, -0.78, -0.73, -0.75, -0.7, -0.77, -0.72, -0.74, -0.76, -0.71,
             -0.75, -0.78, -0.72, -0.7, -0.76, -0.73, -0.77, -0.71, -0.74, -0.78, -0.72, -0.75, -0.7, -0.76, -0.73,
             -0.77, -0.71, -0.74, -0.75, -0.72, -0.74]
c4_band_y2 = [-0.75, -0.71, -0.77, -0.73, -0.7, -0.76, -0.72, -0.78, -0.74, -0.71, -0.75, -0.77, -0.72, -0.7, -0.76,
              -0.73, -0.78, -0.71, -0.74, -0.76, -0.72, -0.7, -0.77, -0.74, -0.71, -0.75, -0.78, -0.73, -0.7, -0.76,
              -0.72, -0.74, -0.77, -0.71, -0.75, -0.73, -0.78, -0.7, -0.74, -0.76, -0.72, -0.77, -0.71, -0.75,
              -0.73, -0.7, -0.76, -0.74, -0.72, -0.75]
c4_below = [(-0.9, -1.0), (-0.82, -1.2), (-0.75, -0.95), (-0.68, -1.35), (-0.6, -1.1), (-0.52, -1.3), (-0.45, -0.95),
            (-0.38, -1.2), (-0.3, -1.4), (-0.22, -1.05), (-0.15, -1.25), (-0.08, -0.95), (0.0, -1.3), (0.08, -1.1),
            (0.15, -1.4), (0.22, -0.95), (0.3, -1.2), (0.38, -1.05), (0.45, -1.35), (0.52, -0.95), (0.6, -1.2),
            (0.68, -1.0), (0.75, -1.4), (0.82, -1.1), (0.9, -0.95), (0.96, -1.25)]


def pairs(xs, ys):
    return list(zip(xs, ys))


def flat(level):
    return [x_ticks[0], x_ticks[-1]], [level, level]


panels = [
    [
        ((m1_bound_x, m1_bound_y), (m1_fit_x, m1_fit_y), m1_scatter + m1_band),
        ((m2_bound_x, m2_bound_y), (m2_fit_x, m2_fit_y), m2_scatter + m2_band),
        ((m3_bound_x, m3_bound_y), (m3_fit_x, m3_fit_y), m3_scatter + m3_band + m3_band_mid + m3_band_extra),
        ((m4_bound_x, m4_bound_y), (m4_fit_x, m4_fit_y),
         m4_scatter + pairs(band_x, m4_band_y) + pairs(band_x2, m4_band_y2) + pairs(band_x2, m4_band_mid)
         + m4_band_extra + m4_below),
    ],
    [
        (flat(a1_level), (fit_x, a1_fit_y), a1_scatter + a1_band),
        (flat(a2_level), (fit_x, a2_fit_y), a2_scatter + a2_band),
        (flat(a3_level), (fit_x, a3_fit_y), a3_scatter + a3_band),
        (flat(a4_level), (fit_x, a4_fit_y),
         a4_scatter + pairs(band_x, a4_band_y) + pairs(band_x2, a4_band_y2) + a4_below),
    ],
    [
        (flat(b1_level), (fit_x, b1_fit_y), b1_scatter + pairs(b1_band_x, b1_band_y)),
        (flat(b2_level), (fit_x, b2_fit_y), b2_scatter + pairs(band_x, b2_band_y) + pairs(band_x2, b2_band_y2)),
        (flat(b3_level), (fit_x, b3_fit_y), b3_scatter + pairs(band_x, b3_band_y) + pairs(band_x2, b3_band_y2)),
        ((b4_bound_x, b4_bound_y), (fit_x, b4_fit_y),
         b4_scatter + pairs(band_x, b4_band_y) + pairs(band_x2, b4_band_y2) + b4_below),
    ],
    [
        (flat(c1_level), (fit_x, c1_fit_y), c1_scatter + c1_band),
        (flat(c2_level), (fit_x, c2_fit_y), c2_scatter + pairs(band_x, c2_band_y) + pairs(band_x2, c2_band_y2)),
        (flat(c3_level), (fit_x, c3_fit_y), c3_scatter + pairs(band_x, c3_band_y) + pairs(band_x2, c3_band_y2)),
        (flat(c4_level), (fit_x, c4_fit_y),
         c4_scatter + pairs(band_x, c4_band_y) + pairs(band_x2, c4_band_y2) + c4_below),
    ],
]

# ---------------- layout constants (pixels) ----------------
FRAME_W, FRAME_H = 154, 150
AXIS_EXT = 17
TOP0 = 9
SIDE_W = 56
BOTTOM_H = 32
LEFT_BORDER = [31, 40, 40, 40]
RIGHT_BORDER = [0, 0, 0, 5]
frame_top = [TOP0 + r * (FRAME_H + AXIS_EXT + 1) for r in range(4)]
zero_px = [ft + FRAME_H * y_limits[1] / (y_limits[1] - y_limits[0]) for ft in frame_top]
TOTAL_H = frame_top[3] + FRAME_H + AXIS_EXT + BOTTOM_H

PT_COLOR = "#ababab"
BOUND_COLOR = "#b3b3b3"
SANS = "Liberation Sans"
SERIF = "Liberation Serif"
INK = "#111111"


def style_axis(ax, ticks, labels, standoff):
    ax.ticker = FixedTicker(ticks=ticks, minor_ticks=[])
    ax.major_label_overrides = {t: l for t, l in zip(ticks, labels)}
    ax.axis_line_color = None
    ax.major_tick_in = 0
    ax.major_tick_out = 5
    ax.major_tick_line_color = "black"
    ax.major_tick_line_width = 1
    ax.minor_tick_line_color = None
    ax.major_label_text_font = SANS
    ax.major_label_text_font_size = "11px"
    ax.major_label_text_color = "#222222"
    ax.major_label_standoff = standoff


grid_rows = []
for r in range(4):
    row_figs = []
    for c in range(4):
        bound, fit, pts = panels[r][c]
        p = figure(frame_width=FRAME_W, frame_height=FRAME_H,
                   x_range=Range1d(x_limits[0], x_limits[1]), y_range=Range1d(y_limits[0], y_limits[1]),
                   toolbar_location=None, output_backend="svg",
                   min_border_left=LEFT_BORDER[c], min_border_right=RIGHT_BORDER[c],
                   min_border_top=TOP0 if r == 0 else 1, min_border_bottom=0)
        p.grid.visible = False
        p.outline_line_color = "black"
        p.outline_line_width = 1
        p.background_fill_color = "white"
        p.border_fill_color = "white"
        style_axis(p.xaxis[0], x_ticks, x_tick_labels, 1)
        style_axis(p.yaxis[0], y_ticks, y_tick_labels, 3)

        p.scatter([q[0] for q in pts], [q[1] for q in pts], marker="circle", size=2.5,
                  fill_color=PT_COLOR, line_color=None)
        p.line(bound[0], bound[1], line_color=BOUND_COLOR, line_width=1.7)
        p.line(fit[0], fit[1], line_color="black", line_width=2.1)
        row_figs.append(p)
    grid_rows.append(row(*row_figs))

# bottom strip: column variable names t1..t4, aligned on each panel's x scale
bottom_figs = []
for c in range(4):
    bf = figure(frame_width=FRAME_W, frame_height=BOTTOM_H,
                x_range=Range1d(x_limits[0], x_limits[1]), y_range=Range1d(0, BOTTOM_H),
                x_axis_type=None, y_axis_type=None, toolbar_location=None, output_backend="svg",
                min_border_left=LEFT_BORDER[c], min_border_right=RIGHT_BORDER[c],
                min_border_top=0, min_border_bottom=0)
    bf.grid.visible = False
    bf.outline_line_color = None
    bf.text(x=[x_ticks[2]], y=[BOTTOM_H - 20], text=[col_var], text_font=value(SERIF),
            text_font_style="italic", text_font_size=value("19px"), text_align="center",
            text_baseline="alphabetic", x_offset=-5, text_color=INK)
    bf.text(x=[x_ticks[2]], y=[BOTTOM_H - 23], text=[col_subscripts[c]], text_font=value(SERIF),
            text_font_size=value("13px"), text_align="left", text_baseline="alphabetic",
            x_offset=-1, text_color=INK)
    bottom_figs.append(bf)

# left strip: group titles and row tags (positions in page pixels, y measured from the bottom)
side = figure(frame_width=SIDE_W, frame_height=TOTAL_H,
              x_range=Range1d(0, SIDE_W), y_range=Range1d(0, TOTAL_H),
              x_axis_type=None, y_axis_type=None, toolbar_location=None, output_backend="svg",
              min_border_left=0, min_border_right=0, min_border_top=0, min_border_bottom=0)
side.grid.visible = False
side.outline_line_color = None
side.text(x=[18], y=[TOTAL_H - (zero_px[0] - 6)], text=[group_titles[0]], angle=math.pi / 2,
          text_font=value(SERIF), text_font_size=value("19px"), text_align="center",
          text_baseline="middle", text_color=INK)
side.text(x=[18], y=[TOTAL_H - (zero_px[2] + 8)], text=[group_titles[1]], angle=math.pi / 2,
          text_font=value(SERIF), text_font_size=value("19px"), text_align="center",
          text_baseline="middle", text_color=INK)
for r in range(1, 4):
    side.text(x=[42], y=[TOTAL_H - zero_px[r]], text=[row_tags[r]], text_font=value(SERIF),
              text_font_size=value("18px"), text_align="center", text_baseline="middle", text_color=INK)

layout = row(side, column(*grid_rows, row(*bottom_figs)))

with open("out.html", "w") as f:
    f.write(file_html(layout, INLINE))
